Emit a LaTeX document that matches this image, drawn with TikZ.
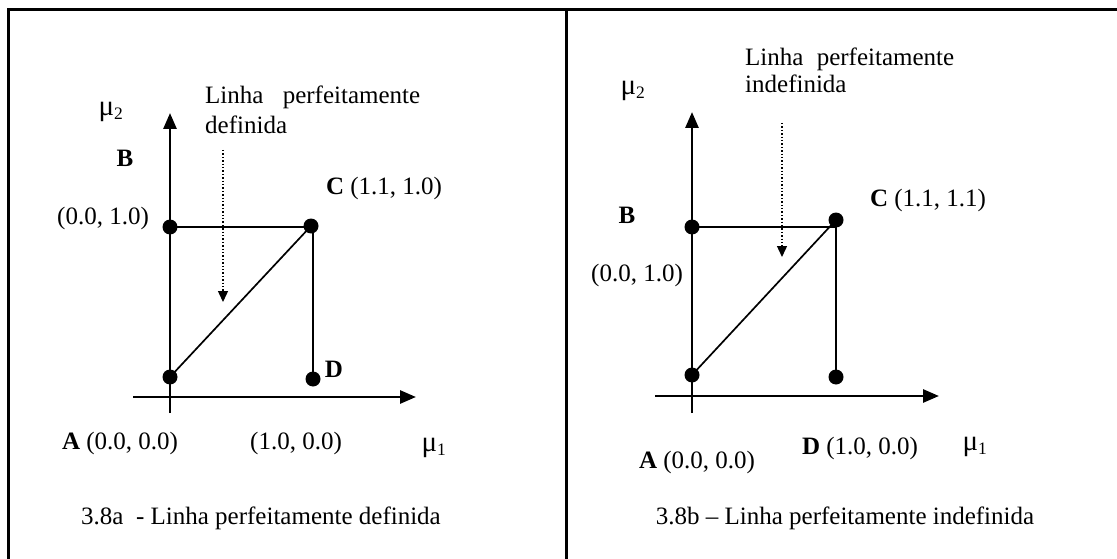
\documentclass[tikz,border=0pt]{standalone}
\usepackage{fontspec}
\setmainfont{Liberation Serif}
\usetikzlibrary{arrows.meta}
\newcommand{\mysym}[1]{{\fontsize{29}{29}\selectfont μ}\textsubscript{#1}}
\begin{document}
\begin{tikzpicture}[x=1pt,y=-1pt,
  lbl/.style={inner sep=0pt,font=\fontsize{25}{30}\selectfont},
  dot/.style={circle,fill=black,inner sep=0pt,minimum size=15pt},
  axis/.style={line width=2.8pt,-{Triangle[length=16pt,width=13pt]}},
  seg/.style={line width=2.6pt},
  diag/.style={line width=1.7pt},
  hint/.style={line width=1.4pt,dotted,-{Triangle[length=11pt,width=10pt]}},
  frame/.style={line width=3pt}]
\useasboundingbox (0,0) rectangle (1117,559);
% frame
\draw[frame] (8,559) -- (8,10) -- (1117,10);
\draw[frame] (566,10) -- (566,559);

% ---------- left panel ----------
\coordinate (yl0) at (170,413);
\coordinate (yl1) at (170,113);
\coordinate (xl0) at (133,397);
\coordinate (xl1) at (416,397);
\draw[axis] (yl0) -- (yl1);
\draw[axis] (xl0) -- (xl1);
\node[dot] (Al) at (170,377) {};
\node[dot] (Bl) at (170,227) {};
\node[dot] (Cl) at (311,226) {};
\node[dot] (Dl) at (313,379) {};
\draw[seg] (Bl.center) -- (Bl.center -| Cl.center);
\draw[seg] (Dl.center |- Cl.center) -- (Dl.center);
\draw[diag] (Al.center) -- (Cl.center);
\coordinate (hl0) at (223,150);
\coordinate (hl1) at (223,302);
\draw[hint] (hl0) -- (hl1);

\node[lbl] (mu2l) at (111,112) {\mysym{2}};
\node[lbl,anchor=north west,align=left] (linl) at (205,86)
  {\hbox to 215pt{Linha\hfill perfeitamente}\\[0pt]definida};
\node[lbl] (bl) at (125,158) {\textbf{B}};
\node[lbl] (cl) at (384,188) {\textbf{C} (1.1, 1.0)};
\node[lbl] (b01l) at (103,218) {(0.0, 1.0)};
\node[lbl] (dl) at (334,369) {\textbf{D}};
\node[lbl] (al) at (120,443) {\textbf{A} (0.0, 0.0)};
\node[lbl] (d10l) at (296,443) {(1.0, 0.0)};
\node[lbl] (mu1l) at (434,448) {\mysym{1}};
\node[lbl] (capl) at (261,518) {3.8a\ \ - Linha perfeitamente definida};

% ---------- right panel ----------
\coordinate (yr0) at (692,413);
\coordinate (yr1) at (692,112);
\coordinate (xr0) at (655,396);
\coordinate (xr1) at (939,396);
\draw[axis] (yr0) -- (yr1);
\draw[axis] (xr0) -- (xr1);
\node[dot] (Ar) at (692,375) {};
\node[dot] (Br) at (692,227) {};
\node[dot] (Cr) at (836,220) {};
\node[dot] (Dr) at (836,377) {};
\draw[seg] (Br.center) -- (Br.center -| Cr.center);
\draw[seg] (Cr.center) -- (Dr.center);
\draw[diag] (Ar.center) -- (Cr.center);
\coordinate (hr0) at (782,123);
\coordinate (hr1) at (782,257);
\draw[hint] (hr0) -- (hr1);

\node[lbl] (mu2r) at (633,91) {\mysym{2}};
\node[lbl,anchor=north west,align=left] (linr) at (745,48)
  {\hbox to 209pt{Linha\hfill perfeitamente}\\[-3pt]indefinida};
\node[lbl] (br) at (627,215) {\textbf{B}};
\node[lbl] (cr) at (928,200) {\textbf{C} (1.1, 1.1)};
\node[lbl] (b01r) at (637,275) {(0.0, 1.0)};
\node[lbl] (ar) at (697,462) {\textbf{A} (0.0, 0.0)};
\node[lbl] (dr) at (860,448) {\textbf{D} (1.0, 0.0)};
\node[lbl] (mu1r) at (975,447) {\mysym{1}};
\node[lbl] (capr) at (845,518) {3.8b – Linha perfeitamente indefinida};
\end{tikzpicture}
\end{document}
